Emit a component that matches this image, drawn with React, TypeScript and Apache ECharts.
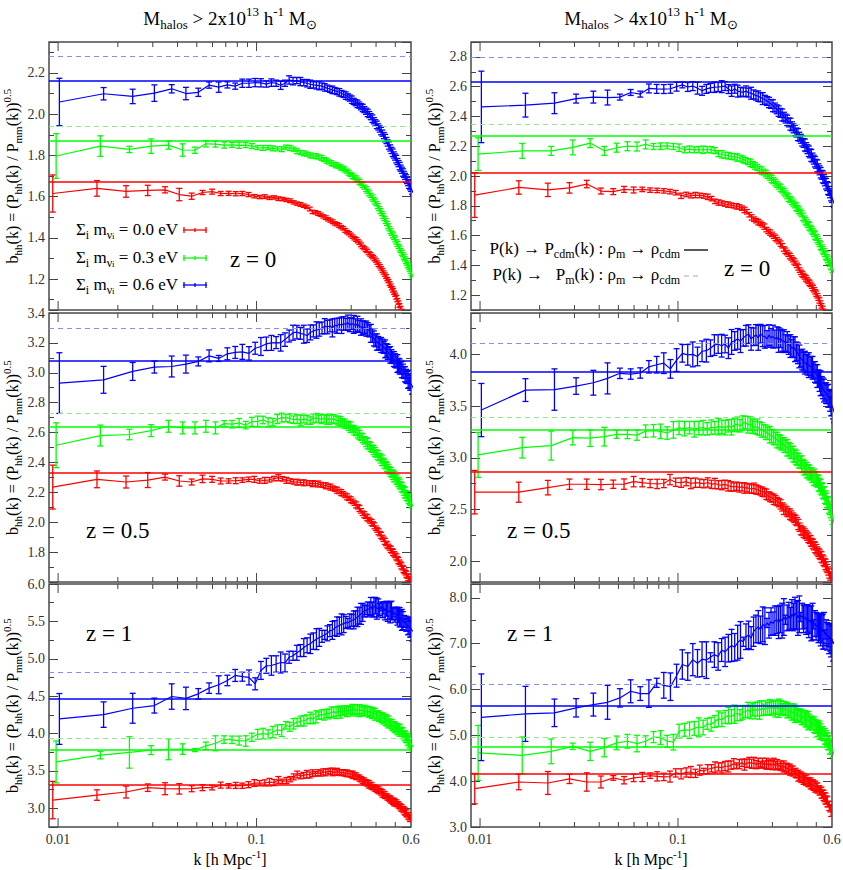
import React, { useEffect, useRef } from 'react';
import * as echarts from 'echarts';

// k values of the measured points [h/Mpc]
const K = [
  0.0094, 0.0157, 0.0220, 0.0283, 0.0346, 0.0408, 0.0471, 0.0534, 0.0597, 0.0660,
  0.0723, 0.0785, 0.0848, 0.0911, 0.0974, 0.1037, 0.1100, 0.1162, 0.1225, 0.1288,
  0.1351, 0.1414, 0.1477, 0.1539, 0.1602, 0.1665, 0.1728, 0.1791, 0.1854, 0.1916,
  0.1979, 0.2042, 0.2105, 0.2168, 0.2231, 0.2293, 0.2356, 0.2419, 0.2482, 0.2545,
  0.2608, 0.2670, 0.2733, 0.2796, 0.2859, 0.2922, 0.2985, 0.3047, 0.3110, 0.3173,
  0.3236, 0.3299, 0.3362, 0.3424, 0.3487, 0.3550, 0.3613, 0.3676, 0.3738, 0.3801,
  0.3864, 0.3927, 0.3990, 0.4053, 0.4115, 0.4178, 0.4241, 0.4304, 0.4367, 0.4430,
  0.4492, 0.4555, 0.4618, 0.4681, 0.4744, 0.4807, 0.4869, 0.4932, 0.4995, 0.5058,
  0.5121, 0.5184, 0.5246, 0.5309, 0.5372, 0.5435, 0.5498, 0.5561, 0.5623, 0.5686,
  0.5749, 0.5812, 0.5875, 0.5938,
];

const MAJOR_K = [0.01, 0.1];
const MINOR_K = [0.02, 0.03, 0.04, 0.05, 0.06, 0.07, 0.08, 0.09, 0.2, 0.3, 0.4, 0.5];
const X_TICK_LABELS = [0.01, 0.1, 0.6];
const NU_MASSES = ['0.0', '0.3', '0.6'];

// ---------- M > 2e13, z = 0 ----------
const M2_Z0_00 = [
  1.615,1.640,1.625,1.630,1.633,1.610,1.602,1.620,1.624,1.615,
  1.616,1.614,1.615,1.610,1.602,1.598,1.600,1.594,1.596,1.590,
  1.588,1.584,1.580,1.572,1.566,1.562,1.556,1.550,1.540,1.526,
  1.524,1.518,1.512,1.504,1.498,1.490,1.484,1.478,1.470,1.466,
  1.460,1.452,1.446,1.436,1.428,1.422,1.414,1.406,1.398,1.392,
  1.384,1.376,1.366,1.356,1.350,1.342,1.336,1.326,1.320,1.312,
  1.306,1.298,1.290,1.280,1.270,1.262,1.252,1.242,1.232,1.222,
  1.212,1.200,1.190,1.178,1.168,1.156,1.146,1.134,1.124,1.112,
  1.098,1.086,1.072,1.060,1.046,1.032,1.018,1.004,0.990,0.976,
  0.962,0.948,0.934,0.920,
];
const M2_Z0_03 = [
  1.797,1.845,1.829,1.845,1.850,1.826,1.825,1.856,1.855,1.850,
  1.851,1.849,1.850,1.845,1.838,1.836,1.838,1.834,1.832,1.830,
  1.840,1.836,1.830,1.820,1.814,1.810,1.806,1.800,1.798,1.796,
  1.792,1.788,1.780,1.774,1.768,1.762,1.757,1.752,1.748,1.742,
  1.738,1.732,1.724,1.716,1.708,1.700,1.694,1.688,1.680,1.672,
  1.664,1.656,1.646,1.636,1.626,1.616,1.606,1.596,1.586,1.576,
  1.566,1.554,1.542,1.530,1.518,1.506,1.494,1.482,1.470,1.456,
  1.444,1.432,1.422,1.412,1.402,1.392,1.380,1.370,1.358,1.348,
  1.338,1.328,1.318,1.308,1.298,1.288,1.278,1.268,1.258,1.250,
  1.238,1.228,1.216,1.205,
];
const M2_Z0_06 = [
  2.059,2.099,2.086,2.102,2.123,2.100,2.106,2.141,2.131,2.142,
  2.136,2.150,2.150,2.153,2.152,2.146,2.153,2.150,2.140,2.150,
  2.166,2.160,2.163,2.158,2.153,2.150,2.145,2.142,2.140,2.138,
  2.136,2.130,2.126,2.121,2.118,2.114,2.110,2.106,2.100,2.096,
  2.090,2.084,2.078,2.070,2.062,2.056,2.050,2.044,2.036,2.030,
  2.022,2.014,2.006,1.998,1.988,1.978,1.968,1.958,1.948,1.938,
  1.928,1.918,1.908,1.896,1.884,1.872,1.860,1.848,1.836,1.824,
  1.813,1.802,1.792,1.782,1.770,1.760,1.748,1.738,1.728,1.717,
  1.708,1.698,1.688,1.678,1.668,1.658,1.648,1.640,1.630,1.620,
  1.612,1.604,1.596,1.588,
];
const M2_Z0_00_ERR = [
  .090,.038,.028,.025,.015,.030,.015,.010,.012,.010,
  .010,.010,.010,.010,.008,.008,.009,.008,.008,.009,
  .008,.008,.009,.008,.008,.009,.008,.008,.009,.008,
  .008,.009,.008,.008,.009,.008,.008,.009,.008,.008,
  .009,.008,.008,.009,.008,.008,.009,.008,.008,.009,
  .008,.008,.009,.008,.008,.009,.008,.008,.009,.008,
  .008,.009,.008,.008,.009,.008,.008,.009,.008,.008,
  .009,.008,.008,.009,.008,.008,.009,.008,.008,.009,
  .008,.008,.009,.008,.008,.009,.008,.008,.009,.008,
  .008,.009,.008,.008,
];
const M2_Z0_03_ERR = [
  .108,.050,.015,.035,.020,.030,.015,.015,.015,.015,
  .012,.015,.012,.012,.010,.012,.010,.012,.010,.012,
  .010,.012,.010,.012,.010,.012,.010,.012,.010,.012,
  .010,.012,.010,.012,.010,.012,.010,.012,.010,.012,
  .010,.012,.010,.012,.010,.012,.010,.012,.010,.012,
  .010,.012,.010,.012,.010,.012,.010,.012,.010,.012,
  .010,.012,.010,.012,.010,.012,.010,.012,.010,.012,
  .010,.012,.010,.012,.010,.012,.010,.012,.010,.012,
  .010,.012,.010,.012,.010,.012,.010,.012,.010,.012,
  .010,.012,.010,.012,
];
const M2_Z0_06_ERR = [
  .115,.030,.035,.040,.020,.030,.020,.015,.025,.015,
  .015,.020,.020,.020,.020,.015,.018,.015,.020,.015,
  .020,.018,.015,.020,.015,.018,.020,.015,.018,.020,
  .015,.018,.015,.015,.018,.015,.015,.018,.015,.015,
  .018,.015,.015,.018,.015,.015,.018,.015,.015,.018,
  .015,.015,.018,.015,.015,.018,.015,.015,.018,.015,
  .015,.018,.015,.015,.018,.015,.015,.018,.015,.015,
  .018,.015,.015,.018,.015,.015,.018,.015,.015,.018,
  .015,.015,.018,.015,.015,.018,.015,.015,.018,.015,
  .015,.018,.015,.015,
];
const M2_Z0_SOLID = [1.671, 1.872, 2.161];
const M2_Z0_DASHED = [null, 1.935, 2.279];
const M2_Z0_YTICKS = [1.2, 1.4, 1.6, 1.8, 2.0, 2.2];

// ---------- M > 4e13, z = 0 ----------
const M4_Z0_00 = [
  1.872,1.923,1.907,1.920,1.946,1.899,1.895,1.910,1.906,1.910,
  1.905,1.903,1.900,1.895,1.888,1.867,1.876,1.868,1.872,1.870,
  1.866,1.860,1.848,1.830,1.822,1.818,1.812,1.808,1.804,1.800,
  1.796,1.792,1.784,1.772,1.760,1.740,1.722,1.710,1.700,1.690,
  1.682,1.672,1.660,1.640,1.628,1.620,1.608,1.596,1.584,1.572,
  1.560,1.546,1.532,1.510,1.498,1.486,1.474,1.462,1.450,1.438,
  1.426,1.414,1.400,1.386,1.368,1.353,1.342,1.332,1.322,1.312,
  1.302,1.292,1.282,1.272,1.260,1.248,1.236,1.222,1.210,1.196,
  1.180,1.164,1.146,1.128,1.108,1.090,1.070,1.050,1.030,1.010,
  0.990,0.970,0.950,0.930,
];
const M4_Z0_03 = [
  2.147,2.169,2.169,2.192,2.221,2.169,2.190,2.200,2.198,2.212,
  2.198,2.200,2.202,2.198,2.190,2.176,2.180,2.176,2.178,2.176,
  2.178,2.176,2.170,2.150,2.146,2.140,2.136,2.132,2.128,2.124,
  2.120,2.112,2.104,2.096,2.088,2.078,2.068,2.058,2.046,2.036,
  2.026,2.016,2.004,1.992,1.980,1.968,1.956,1.944,1.932,1.920,
  1.906,1.894,1.880,1.867,1.854,1.842,1.830,1.818,1.806,1.794,
  1.782,1.770,1.758,1.746,1.726,1.711,1.698,1.686,1.674,1.662,
  1.650,1.638,1.626,1.614,1.600,1.588,1.574,1.560,1.546,1.532,
  1.518,1.504,1.492,1.478,1.466,1.452,1.440,1.426,1.414,1.400,
  1.388,1.374,1.360,1.345,
];
const M4_Z0_06 = [
  2.464,2.476,2.489,2.520,2.530,2.527,2.530,2.561,2.550,2.588,
  2.585,2.584,2.586,2.600,2.612,2.598,2.604,2.590,2.572,2.585,
  2.592,2.596,2.598,2.600,2.604,2.584,2.570,2.586,2.570,2.566,
  2.562,2.570,2.560,2.556,2.548,2.540,2.536,2.528,2.520,2.512,
  2.504,2.494,2.484,2.472,2.460,2.448,2.436,2.424,2.410,2.398,
  2.386,2.374,2.360,2.348,2.334,2.320,2.306,2.292,2.278,2.264,
  2.250,2.236,2.222,2.208,2.194,2.180,2.166,2.152,2.138,2.124,
  2.110,2.096,2.082,2.068,2.052,2.038,2.022,2.008,1.994,1.979,
  1.964,1.948,1.932,1.916,1.900,1.884,1.868,1.852,1.836,1.820,
  1.804,1.788,1.772,1.756,
];
const M4_Z0_00_ERR = [
  .150,.045,.045,.035,.025,.020,.020,.020,.020,.015,
  .015,.015,.015,.015,.015,.018,.015,.015,.018,.015,
  .015,.018,.015,.015,.018,.015,.015,.018,.015,.015,
  .018,.015,.015,.018,.015,.015,.018,.015,.015,.018,
  .015,.015,.018,.015,.015,.018,.015,.015,.018,.015,
  .015,.018,.015,.015,.018,.015,.015,.018,.015,.015,
  .018,.015,.015,.018,.015,.015,.018,.015,.015,.018,
  .015,.015,.018,.015,.015,.018,.015,.015,.018,.015,
  .015,.018,.015,.015,.018,.015,.015,.018,.015,.015,
  .018,.015,.015,.018,
];
const M4_Z0_03_ERR = [
  .110,.050,.030,.050,.030,.030,.030,.030,.030,.030,
  .020,.022,.020,.020,.025,.020,.022,.020,.020,.025,
  .020,.022,.020,.020,.025,.020,.022,.020,.020,.025,
  .020,.022,.020,.020,.025,.020,.022,.020,.020,.025,
  .020,.022,.020,.020,.025,.020,.022,.020,.020,.025,
  .020,.022,.020,.020,.025,.020,.022,.020,.020,.025,
  .020,.022,.020,.020,.025,.020,.022,.020,.020,.025,
  .020,.022,.020,.020,.025,.020,.022,.020,.020,.025,
  .020,.022,.020,.020,.025,.020,.022,.020,.020,.025,
  .020,.022,.020,.025,
];
const M4_Z0_06_ERR = [
  .240,.080,.070,.030,.040,.050,.020,.020,.020,.030,
  .030,.030,.030,.030,.020,.030,.030,.040,.030,.030,
  .030,.035,.030,.040,.030,.030,.035,.030,.040,.030,
  .030,.035,.030,.040,.030,.030,.035,.030,.040,.030,
  .030,.035,.030,.040,.030,.030,.035,.030,.040,.030,
  .030,.035,.030,.040,.030,.030,.035,.030,.040,.030,
  .030,.035,.030,.040,.030,.030,.035,.030,.040,.030,
  .030,.035,.030,.040,.030,.030,.035,.030,.040,.030,
  .030,.035,.030,.040,.030,.030,.035,.030,.040,.030,
  .030,.035,.030,.040,
];
const M4_Z0_SOLID = [2.019, 2.275, 2.632];
const M4_Z0_DASHED = [null, 2.346, 2.800];
const M4_Z0_YTICKS = [1.2, 1.4, 1.6, 1.8, 2.0, 2.2, 2.4, 2.6, 2.8];

// ---------- M > 2e13, z = 0.5 ----------
const M2_Z05_00 = [
  2.235,2.287,2.269,2.282,2.302,2.276,2.269,2.290,2.287,2.276,
  2.276,2.278,2.282,2.287,2.287,2.276,2.280,2.284,2.292,2.298,
  2.290,2.280,2.276,2.270,2.268,2.266,2.264,2.262,2.262,2.258,
  2.258,2.256,2.252,2.248,2.244,2.240,2.235,2.228,2.222,2.214,
  2.206,2.198,2.190,2.180,2.170,2.160,2.150,2.140,2.128,2.116,
  2.104,2.092,2.076,2.060,2.050,2.040,2.030,2.018,2.008,1.998,
  1.988,1.976,1.960,1.948,1.936,1.924,1.912,1.898,1.886,1.872,
  1.858,1.848,1.838,1.828,1.818,1.808,1.798,1.788,1.778,1.768,
  1.756,1.744,1.732,1.720,1.708,1.696,1.684,1.672,1.662,1.652,
  1.640,1.630,1.620,1.608,
];
const M2_Z05_03 = [
  2.515,2.580,2.587,2.613,2.642,2.631,2.631,2.642,2.631,2.660,
  2.656,2.664,2.650,2.672,2.675,2.684,2.669,2.670,2.690,2.700,
  2.698,2.696,2.686,2.690,2.682,2.690,2.686,2.680,2.694,2.698,
  2.692,2.690,2.694,2.686,2.690,2.692,2.690,2.684,2.680,2.676,
  2.668,2.660,2.652,2.644,2.636,2.624,2.614,2.604,2.594,2.584,
  2.572,2.562,2.548,2.536,2.526,2.514,2.504,2.492,2.482,2.470,
  2.460,2.448,2.436,2.426,2.414,2.404,2.392,2.382,2.370,2.358,
  2.347,2.336,2.326,2.316,2.306,2.296,2.286,2.276,2.268,2.258,
  2.246,2.234,2.222,2.210,2.198,2.188,2.176,2.166,2.156,2.147,
  2.136,2.126,2.114,2.102,
];
const M2_Z05_06 = [
  2.931,2.953,3.009,3.038,3.042,3.058,3.076,3.113,3.096,3.127,
  3.136,3.140,3.130,3.164,3.176,3.194,3.200,3.202,3.200,3.222,
  3.246,3.268,3.272,3.264,3.258,3.248,3.270,3.280,3.286,3.290,
  3.300,3.312,3.306,3.314,3.300,3.318,3.314,3.326,3.318,3.330,
  3.324,3.336,3.320,3.330,3.324,3.316,3.328,3.310,3.306,3.302,
  3.304,3.296,3.290,3.280,3.264,3.248,3.230,3.214,3.206,3.198,
  3.192,3.186,3.180,3.170,3.160,3.150,3.140,3.130,3.120,3.110,
  3.102,3.092,3.082,3.072,3.062,3.052,3.042,3.032,3.022,3.013,
  3.002,2.990,2.978,2.968,2.956,2.946,2.934,2.924,2.912,2.902,
  2.884,2.864,2.846,2.826,
];
const M2_Z05_00_ERR = [
  .147,.056,.040,.050,.020,.035,.020,.025,.020,.020,
  .015,.020,.015,.015,.020,.015,.020,.015,.015,.020,
  .015,.020,.015,.015,.020,.015,.020,.015,.015,.020,
  .015,.020,.015,.015,.020,.015,.020,.015,.015,.020,
  .015,.020,.015,.015,.020,.015,.020,.015,.015,.020,
  .015,.020,.015,.015,.020,.015,.020,.015,.015,.020,
  .015,.020,.015,.015,.020,.015,.020,.015,.015,.020,
  .015,.020,.015,.015,.020,.015,.020,.015,.015,.020,
  .015,.020,.015,.015,.020,.015,.020,.015,.015,.020,
  .015,.020,.015,.020,
];
const M2_Z05_03_ERR = [
  .150,.070,.035,.040,.040,.040,.040,.040,.040,.020,
  .025,.030,.025,.030,.035,.025,.030,.025,.030,.030,
  .025,.030,.025,.030,.035,.025,.030,.025,.030,.030,
  .025,.030,.025,.030,.035,.025,.030,.025,.030,.030,
  .025,.030,.025,.030,.035,.025,.030,.025,.030,.030,
  .025,.030,.025,.030,.035,.025,.030,.025,.030,.030,
  .025,.030,.025,.030,.035,.025,.030,.025,.030,.030,
  .025,.030,.025,.030,.035,.025,.030,.025,.030,.030,
  .025,.030,.025,.030,.035,.025,.030,.025,.030,.030,
  .025,.030,.025,.030,
];
const M2_Z05_06_ERR = [
  .203,.090,.060,.040,.070,.060,.030,.040,.020,.040,
  .040,.050,.045,.040,.060,.045,.050,.040,.055,.045,
  .040,.050,.045,.040,.060,.045,.050,.040,.055,.045,
  .040,.050,.045,.040,.060,.045,.050,.040,.055,.045,
  .040,.050,.045,.040,.060,.045,.050,.040,.055,.045,
  .040,.050,.045,.040,.060,.045,.050,.040,.055,.045,
  .040,.050,.045,.040,.060,.045,.050,.040,.055,.045,
  .040,.050,.045,.040,.060,.045,.050,.040,.055,.045,
  .040,.050,.045,.040,.060,.045,.050,.040,.055,.045,
  .040,.050,.045,.040,
];
const M2_Z05_SOLID = [2.327, 2.638, 3.078];
const M2_Z05_DASHED = [null, 2.735, 3.298];
const M2_Z05_YTICKS = [1.8, 2.0, 2.2, 2.4, 2.6, 2.8, 3.0, 3.2, 3.4];

// ---------- M > 4e13, z = 0.5 ----------
const M4_Z05_00 = [
  2.668,2.668,2.712,2.745,2.745,2.742,2.745,2.746,2.770,2.760,
  2.752,2.748,2.752,2.790,2.764,2.760,2.770,2.752,2.760,2.755,
  2.750,2.762,2.744,2.752,2.740,2.736,2.744,2.730,2.724,2.718,
  2.726,2.714,2.720,2.708,2.712,2.704,2.700,2.706,2.694,2.690,
  2.680,2.672,2.664,2.648,2.632,2.622,2.612,2.600,2.590,2.578,
  2.566,2.550,2.526,2.502,2.494,2.482,2.470,2.456,2.442,2.428,
  2.414,2.398,2.384,2.356,2.330,2.302,2.292,2.282,2.270,2.258,
  2.244,2.228,2.212,2.198,2.182,2.166,2.150,2.134,2.118,2.100,
  2.086,2.072,2.058,2.042,2.024,2.006,1.988,1.970,1.950,1.930,
  1.906,1.882,1.858,1.834,
];
const M4_Z05_03 = [
  3.028,3.098,3.118,3.195,3.190,3.205,3.228,3.226,3.220,3.258,
  3.262,3.256,3.240,3.270,3.290,3.282,3.292,3.276,3.288,3.292,
  3.280,3.296,3.290,3.302,3.300,3.292,3.310,3.296,3.318,3.324,
  3.310,3.336,3.342,3.320,3.330,3.306,3.294,3.300,3.284,3.270,
  3.260,3.248,3.236,3.224,3.211,3.198,3.186,3.172,3.160,3.148,
  3.136,3.124,3.110,3.098,3.084,3.068,3.052,3.036,3.020,3.004,
  2.988,2.972,2.956,2.940,2.922,2.905,2.894,2.882,2.870,2.858,
  2.846,2.834,2.822,2.812,2.804,2.796,2.776,2.756,2.738,2.720,
  2.700,2.680,2.660,2.640,2.616,2.590,2.566,2.540,2.516,2.490,
  2.458,2.426,2.392,2.360,
];
const M4_Z05_06 = [
  3.462,3.655,3.660,3.694,3.726,3.768,3.817,3.810,3.820,3.880,
  3.900,3.915,3.860,3.945,4.010,3.996,4.000,3.980,4.030,4.036,
  4.060,4.090,4.100,4.084,4.100,4.060,4.120,4.130,4.150,4.128,
  4.160,4.180,4.196,4.150,4.170,4.188,4.160,4.200,4.176,4.170,
  4.150,4.186,4.160,4.172,4.150,4.166,4.140,4.156,4.130,4.128,
  4.110,4.120,4.090,4.080,4.060,4.070,4.050,4.030,4.010,3.980,
  3.960,3.950,3.930,3.920,3.910,3.900,3.896,3.886,3.880,3.870,
  3.850,3.830,3.812,3.790,3.766,3.742,3.720,3.696,3.672,3.650,
  3.638,3.626,3.614,3.600,3.576,3.550,3.526,3.500,3.476,3.450,
  3.420,3.392,3.362,3.330,
];
const M4_Z05_00_ERR = [
  .210,.097,.070,.050,.050,.050,.040,.050,.050,.040,
  .040,.045,.040,.050,.040,.045,.040,.050,.045,.040,
  .040,.045,.040,.050,.040,.045,.040,.050,.045,.040,
  .040,.045,.040,.050,.040,.045,.040,.050,.045,.040,
  .040,.045,.040,.050,.040,.045,.040,.050,.045,.040,
  .040,.045,.040,.050,.040,.045,.040,.050,.045,.040,
  .040,.045,.040,.050,.040,.045,.040,.050,.045,.040,
  .040,.045,.040,.050,.040,.045,.040,.050,.045,.040,
  .040,.045,.040,.050,.040,.045,.040,.050,.045,.040,
  .040,.045,.040,.050,
];
const M4_Z05_03_ERR = [
  .217,.100,.140,.070,.080,.090,.040,.040,.050,.060,
  .060,.070,.060,.080,.065,.070,.060,.075,.065,.070,
  .060,.070,.060,.080,.065,.070,.060,.075,.065,.070,
  .060,.070,.060,.080,.065,.070,.060,.075,.065,.070,
  .060,.070,.060,.080,.065,.070,.060,.075,.065,.070,
  .060,.070,.060,.080,.065,.070,.060,.075,.065,.070,
  .060,.070,.060,.080,.065,.070,.060,.075,.065,.070,
  .060,.070,.060,.080,.065,.070,.060,.075,.065,.070,
  .060,.070,.060,.080,.065,.070,.060,.075,.065,.070,
  .060,.070,.060,.080,
];
const M4_Z05_06_ERR = [
  .257,.110,.200,.080,.120,.150,.050,.050,.050,.060,
  .080,.100,.090,.110,.085,.100,.120,.090,.100,.110,
  .080,.100,.090,.110,.085,.100,.120,.090,.100,.110,
  .080,.100,.090,.110,.085,.100,.120,.090,.100,.110,
  .080,.100,.090,.110,.085,.100,.120,.090,.100,.110,
  .080,.100,.090,.110,.085,.100,.120,.090,.100,.110,
  .080,.100,.090,.110,.085,.100,.120,.090,.100,.110,
  .080,.100,.090,.110,.085,.100,.120,.090,.100,.110,
  .080,.100,.090,.110,.085,.100,.120,.090,.100,.110,
  .080,.100,.090,.110,
];
const M4_Z05_SOLID = [2.867, 3.269, 3.832];
const M4_Z05_DASHED = [null, 3.392, 4.112];
const M4_Z05_YTICKS = [2.0, 2.5, 3.0, 3.5, 4.0];

// ---------- M > 2e13, z = 1 ----------
const M2_Z1_00 = [
  3.110,3.177,3.218,3.276,3.262,3.260,3.262,3.276,3.276,3.310,
  3.300,3.306,3.302,3.316,3.338,3.336,3.340,3.350,3.344,3.380,
  3.360,3.372,3.390,3.420,3.452,3.430,3.440,3.456,3.446,3.470,
  3.460,3.476,3.466,3.488,3.480,3.494,3.496,3.486,3.480,3.490,
  3.484,3.476,3.482,3.470,3.468,3.460,3.456,3.448,3.440,3.428,
  3.418,3.404,3.388,3.372,3.360,3.348,3.336,3.322,3.310,3.296,
  3.282,3.272,3.262,3.252,3.242,3.230,3.216,3.200,3.188,3.176,
  3.164,3.152,3.140,3.128,3.116,3.104,3.092,3.084,3.076,3.068,
  3.060,3.046,3.032,3.018,3.004,2.992,2.980,2.964,2.948,2.932,
  2.916,2.898,2.880,2.862,
];
const M2_Z1_03 = [
  3.620,3.711,3.747,3.778,3.790,3.792,3.778,3.836,3.870,3.920,
  3.916,3.906,3.900,3.950,3.990,4.000,3.990,4.020,4.050,4.040,
  4.110,4.090,4.130,4.150,4.168,4.170,4.190,4.210,4.196,4.224,
  4.240,4.256,4.250,4.270,4.262,4.286,4.290,4.276,4.300,4.286,
  4.294,4.310,4.296,4.316,4.300,4.320,4.326,4.310,4.320,4.306,
  4.316,4.300,4.308,4.296,4.300,4.286,4.290,4.276,4.266,4.258,
  4.250,4.240,4.232,4.222,4.212,4.200,4.190,4.180,4.168,4.156,
  4.144,4.130,4.116,4.102,4.092,4.080,4.070,4.060,4.050,4.044,
  4.036,4.020,4.004,3.984,3.968,3.952,3.936,3.920,3.904,3.888,
  3.872,3.854,3.834,3.812,
];
const M2_Z1_06 = [
  4.195,4.253,4.338,4.374,4.495,4.470,4.531,4.607,4.652,4.710,
  4.777,4.760,4.750,4.665,4.844,4.906,4.910,4.930,4.950,4.944,
  5.020,5.040,5.080,5.110,5.150,5.180,5.200,5.236,5.262,5.286,
  5.300,5.320,5.340,5.376,5.380,5.410,5.430,5.446,5.460,5.470,
  5.486,5.480,5.500,5.512,5.520,5.540,5.560,5.576,5.600,5.620,
  5.640,5.650,5.660,5.670,5.700,5.660,5.690,5.710,5.670,5.680,
  5.660,5.700,5.650,5.680,5.640,5.670,5.630,5.640,5.620,5.650,
  5.600,5.620,5.590,5.600,5.570,5.580,5.556,5.540,5.520,5.510,
  5.500,5.480,5.470,5.450,5.440,5.430,5.420,5.400,5.380,5.370,
  5.340,5.320,5.300,5.280,
];
const M2_Z1_00_ERR = [
  .250,.070,.080,.050,.080,.070,.040,.040,.030,.040,
  .030,.040,.035,.040,.045,.035,.040,.050,.040,.045,
  .030,.040,.035,.040,.045,.035,.040,.050,.040,.045,
  .030,.040,.035,.040,.045,.035,.040,.050,.040,.045,
  .030,.040,.035,.040,.045,.035,.040,.050,.040,.045,
  .030,.040,.035,.040,.045,.035,.040,.050,.040,.045,
  .030,.040,.035,.040,.045,.035,.040,.050,.040,.045,
  .030,.040,.035,.040,.045,.035,.040,.050,.040,.045,
  .030,.040,.035,.040,.045,.035,.040,.050,.040,.045,
  .030,.040,.035,.040,
];
const M2_Z1_03_ERR = [
  .280,.050,.210,.060,.140,.070,.020,.050,.100,.050,
  .050,.060,.070,.055,.065,.070,.060,.075,.065,.080,
  .050,.060,.070,.055,.065,.070,.060,.075,.065,.080,
  .050,.060,.070,.055,.065,.070,.060,.075,.065,.080,
  .050,.060,.070,.055,.065,.070,.060,.075,.065,.080,
  .050,.060,.070,.055,.065,.070,.060,.075,.065,.080,
  .050,.060,.070,.055,.065,.070,.060,.075,.065,.080,
  .050,.060,.070,.055,.065,.070,.060,.075,.065,.080,
  .050,.060,.070,.055,.065,.070,.060,.075,.065,.080,
  .050,.060,.070,.055,
];
const M2_Z1_06_ERR = [
  .340,.170,.200,.100,.170,.150,.070,.070,.120,.070,
  .080,.060,.100,.080,.120,.100,.130,.110,.140,.120,
  .080,.060,.100,.080,.120,.100,.130,.110,.140,.120,
  .080,.060,.100,.080,.120,.100,.130,.110,.140,.120,
  .080,.060,.100,.080,.120,.100,.130,.110,.140,.120,
  .080,.060,.100,.080,.120,.100,.130,.110,.140,.120,
  .080,.060,.100,.080,.120,.100,.130,.110,.140,.120,
  .080,.060,.100,.080,.120,.100,.130,.110,.140,.120,
  .080,.060,.100,.080,.120,.100,.130,.110,.140,.120,
  .080,.060,.100,.080,
];
const M2_Z1_SOLID = [3.308, 3.782, 4.473];
const M2_Z1_DASHED = [null, 3.935, 4.820];
const M2_Z1_YTICKS = [3.0, 3.5, 4.0, 4.5, 5.0, 5.5, 6.0];

// ---------- M > 4e13, z = 1 ----------
const M4_Z1_00 = [
  3.836,3.982,3.960,4.048,3.982,3.982,4.070,4.020,4.070,4.090,
  4.120,4.104,4.092,4.100,4.180,4.160,4.190,4.200,4.170,4.240,
  4.220,4.260,4.280,4.300,4.310,4.290,4.330,4.320,4.350,4.380,
  4.340,4.370,4.400,4.360,4.390,4.410,4.380,4.400,4.360,4.390,
  4.370,4.400,4.360,4.380,4.360,4.370,4.350,4.380,4.340,4.360,
  4.330,4.340,4.310,4.320,4.300,4.280,4.270,4.250,4.240,4.220,
  4.200,4.180,4.150,4.120,4.110,4.090,4.070,4.050,4.030,4.020,
  4.000,3.980,3.960,3.950,3.930,3.920,3.900,3.880,3.870,3.850,
  3.830,3.800,3.780,3.750,3.720,3.690,3.650,3.620,3.590,3.550,
  3.500,3.460,3.410,3.350,
];
const M4_Z1_03 = [
  4.616,4.563,4.650,4.760,4.650,4.730,4.834,4.870,4.820,4.870,
  4.960,4.950,4.870,4.850,5.090,5.120,5.110,5.150,5.180,5.170,
  5.250,5.240,5.300,5.360,5.340,5.400,5.430,5.410,5.460,5.480,
  5.440,5.500,5.520,5.550,5.510,5.560,5.540,5.570,5.550,5.590,
  5.560,5.600,5.580,5.610,5.590,5.620,5.580,5.610,5.590,5.600,
  5.570,5.590,5.560,5.550,5.540,5.520,5.510,5.490,5.480,5.460,
  5.440,5.430,5.410,5.400,5.390,5.370,5.360,5.340,5.320,5.300,
  5.290,5.270,5.250,5.230,5.200,5.180,5.150,5.130,5.110,5.090,
  5.060,5.040,5.010,4.980,4.950,4.910,4.870,4.830,4.790,4.750,
  4.710,4.670,4.610,4.550,
];
const M4_Z1_06 = [
  5.393,5.467,5.490,5.600,5.670,5.720,5.816,5.960,5.910,5.910,
  6.145,6.090,6.060,6.300,6.545,6.500,6.650,6.570,6.660,6.640,
  6.700,6.760,6.720,6.860,6.820,6.900,6.960,6.920,7.020,7.080,
  7.040,7.150,7.190,7.120,7.260,7.320,7.370,7.300,7.420,7.380,
  7.450,7.400,7.480,7.440,7.500,7.520,7.460,7.540,7.500,7.580,
  7.520,7.560,7.600,7.540,7.640,7.580,7.660,7.620,7.560,7.640,
  7.580,7.600,7.540,7.580,7.520,7.550,7.480,7.520,7.440,7.480,
  7.420,7.440,7.380,7.400,7.340,7.360,7.300,7.320,7.260,7.280,
  7.200,7.240,7.160,7.180,7.100,7.140,7.060,7.100,7.000,7.040,
  6.960,6.980,6.880,6.850,
];
const M4_Z1_00_ERR = [
  .330,.170,.250,.100,.200,.130,.050,.080,.080,.100,
  .060,.100,.080,.120,.090,.110,.100,.120,.090,.110,
  .060,.100,.080,.120,.090,.110,.100,.120,.090,.110,
  .060,.100,.080,.120,.090,.110,.100,.120,.090,.110,
  .060,.100,.080,.120,.090,.110,.100,.120,.090,.110,
  .060,.100,.080,.120,.090,.110,.100,.120,.090,.110,
  .060,.100,.080,.120,.090,.110,.100,.120,.090,.110,
  .060,.100,.080,.120,.090,.110,.100,.120,.090,.110,
  .060,.100,.080,.120,.090,.110,.100,.120,.090,.110,
  .060,.100,.080,.120,
];
const M4_Z1_03_ERR = [
  .600,.400,.270,.070,.200,.200,.150,.150,.180,.120,
  .120,.150,.130,.170,.150,.140,.180,.150,.200,.160,
  .120,.150,.130,.170,.150,.140,.180,.150,.200,.160,
  .120,.150,.130,.170,.150,.140,.180,.150,.200,.160,
  .120,.150,.130,.170,.150,.140,.180,.150,.200,.160,
  .120,.150,.130,.170,.150,.140,.180,.150,.200,.160,
  .120,.150,.130,.170,.150,.140,.180,.150,.200,.160,
  .120,.150,.130,.170,.150,.140,.180,.150,.200,.160,
  .120,.150,.130,.170,.150,.140,.180,.150,.200,.160,
  .120,.150,.130,.170,
];
const M4_Z1_06_ERR = [
  .945,.600,.300,.200,.250,.370,.200,.250,.150,.300,
  .100,.280,.300,.250,.320,.300,.350,.300,.380,.400,
  .100,.280,.300,.250,.320,.300,.350,.300,.380,.400,
  .100,.280,.300,.250,.320,.300,.350,.300,.380,.400,
  .100,.280,.300,.250,.320,.300,.350,.300,.380,.400,
  .100,.280,.300,.250,.320,.300,.350,.300,.380,.400,
  .100,.280,.300,.250,.320,.300,.350,.300,.380,.400,
  .100,.280,.300,.250,.320,.300,.350,.300,.380,.400,
  .100,.280,.300,.250,.320,.300,.350,.300,.380,.400,
  .100,.280,.300,.250,
];
const M4_Z1_SOLID = [4.157, 4.760, 5.650];
const M4_Z1_DASHED = [null, 4.965, 6.107];
const M4_Z1_YTICKS = [3.0, 4.0, 5.0, 6.0, 7.0, 8.0];

// ---------- layout & style ----------
const FONT = 'Liberation Serif';
const COLORS = ['#ff0000', '#00ff00', '#0000ff'];
const DASH_COLORS = ['#ff9090', '#8fe88f', '#8a8aff'];
const X_DODGE = [1, 1.04, 1.08];
const GRID_LEFT = [49, 471];
const GRID_WIDTH = [362, 361];
const GRID_TOP = [42, 313, 584];
const GRID_HEIGHT = [268, 269, 243];

const PANELS = [
  { col: 0, row: 0, vals: [M2_Z0_00, M2_Z0_03, M2_Z0_06], errs: [M2_Z0_00_ERR, M2_Z0_03_ERR, M2_Z0_06_ERR], solid: M2_Z0_SOLID, dashed: M2_Z0_DASHED, ticks: M2_Z0_YTICKS, yMin: 1.05, yMax: 2.35, step: 0.2 },
  { col: 1, row: 0, vals: [M4_Z0_00, M4_Z0_03, M4_Z0_06], errs: [M4_Z0_00_ERR, M4_Z0_03_ERR, M4_Z0_06_ERR], solid: M4_Z0_SOLID, dashed: M4_Z0_DASHED, ticks: M4_Z0_YTICKS, yMin: 1.1, yMax: 2.9, step: 0.2 },
  { col: 0, row: 1, vals: [M2_Z05_00, M2_Z05_03, M2_Z05_06], errs: [M2_Z05_00_ERR, M2_Z05_03_ERR, M2_Z05_06_ERR], solid: M2_Z05_SOLID, dashed: M2_Z05_DASHED, ticks: M2_Z05_YTICKS, yMin: 1.6, yMax: 3.4, step: 0.2 },
  { col: 1, row: 1, vals: [M4_Z05_00, M4_Z05_03, M4_Z05_06], errs: [M4_Z05_00_ERR, M4_Z05_03_ERR, M4_Z05_06_ERR], solid: M4_Z05_SOLID, dashed: M4_Z05_DASHED, ticks: M4_Z05_YTICKS, yMin: 1.8, yMax: 4.4, step: 0.5 },
  { col: 0, row: 2, vals: [M2_Z1_00, M2_Z1_03, M2_Z1_06], errs: [M2_Z1_00_ERR, M2_Z1_03_ERR, M2_Z1_06_ERR], solid: M2_Z1_SOLID, dashed: M2_Z1_DASHED, ticks: M2_Z1_YTICKS, yMin: 2.75, yMax: 6.0, step: 0.5 },
  { col: 1, row: 2, vals: [M4_Z1_00, M4_Z1_03, M4_Z1_06], errs: [M4_Z1_00_ERR, M4_Z1_03_ERR, M4_Z1_06_ERR], solid: M4_Z1_SOLID, dashed: M4_Z1_DASHED, ticks: M4_Z1_YTICKS, yMin: 3.0, yMax: 8.3, step: 1.0 },
];

function richSet(size: number) {
  const mk = (fs: number, lh: number, va?: string) => ({
    fontFamily: FONT, fontSize: fs, lineHeight: lh, color: '#000', fill: '#000',
    ...(va ? { verticalAlign: va } : {}),
  });
  return {
    a: mk(size, Math.round(size * 1.35)),
    s: mk(Math.round(size * 0.7), Math.round(size * 0.75), 'bottom'),
    ss: mk(Math.round(size * 0.52), Math.round(size * 0.5), 'bottom'),
    p: mk(Math.round(size * 0.7), Math.round(size * 0.75), 'top'),
  };
}

const Y_NAME = '{a|b}{s|hh}{a|(k) = (P}{s|hh}{a|(k) / P}{s|mm}{a|(k))}{p|0.5}';

function rtext(x: number, y: number, text: string, size: number, align = 'left') {
  return {
    type: 'text', x, y, silent: true,
    style: { text, rich: richSet(size), align, verticalAlign: 'middle', fontFamily: FONT, fontSize: size, fill: '#000' },
  };
}
function seg(x1: number, y1: number, x2: number, y2: number, stroke: string, lineWidth = 1.3, lineDash?: number[]) {
  return { type: 'line', silent: true, shape: { x1, y1, x2, y2 }, style: { stroke, lineWidth, ...(lineDash ? { lineDash } : {}) } };
}

function buildOption() {
  const grid: any[] = [];
  const xAxis: any[] = [];
  const yAxis: any[] = [];
  const series: any[] = [];

  PANELS.forEach((p, i) => {
    grid.push({
      left: GRID_LEFT[p.col], top: GRID_TOP[p.row], width: GRID_WIDTH[p.col], height: GRID_HEIGHT[p.row],
      show: true, borderColor: '#4a4a4a', borderWidth: 1.5, backgroundColor: 'transparent',
      containLabel: false, outerBoundsMode: 'none',
    });
    xAxis.push({
      type: 'log', logBase: 10, gridIndex: i, min: 0.009, max: 0.6,
      axisLine: { show: false }, axisTick: { show: false }, splitLine: { show: false }, minorTick: { show: false },
      axisLabel: {
        show: p.row === 2, showMinLabel: true, showMaxLabel: true,
        fontFamily: FONT, fontSize: 14, color: '#333', margin: 5,
        formatter: (v: number) => {
          const m = X_TICK_LABELS.find((t) => Math.abs(t - v) < t * 0.02);
          return m !== undefined ? String(m) : '';
        },
      },
    });
    const yBase = {
      type: 'value', gridIndex: i, min: p.yMin, max: p.yMax, minInterval: p.step, maxInterval: p.step,
      axisLine: { show: false }, splitLine: { show: false }, minorSplitLine: { show: false },
      axisTick: { show: true, inside: true, length: 9, lineStyle: { color: '#444', width: 1 } },
      minorTick: { show: true, splitNumber: 2, length: 5, lineStyle: { color: '#444', width: 1 } },
    };
    yAxis.push({
      ...yBase, position: 'left',
      axisLabel: {
        showMinLabel: true, showMaxLabel: true, fontFamily: FONT, fontSize: 14, color: '#333', margin: 4,
        formatter: (v: number) => (p.ticks.some((t) => Math.abs(t - v) < 1e-6) ? v.toFixed(1) : ''),
      },
      name: Y_NAME, nameLocation: 'middle', nameGap: 21, nameRotate: 90,
      nameTextStyle: { rich: richSet(16) },
    });
    yAxis.push({ ...yBase, position: 'right', axisLabel: { show: false } });

    for (let c = 0; c < 3; c++) {
      const vals = p.vals[c];
      const errs = p.errs[c];
      const color = COLORS[c];
      const ml: any[] = [{ yAxis: p.solid[c], lineStyle: { color, width: 1.5, type: 'solid' } }];
      if (p.dashed[c] != null) ml.push({ yAxis: p.dashed[c], lineStyle: { color: DASH_COLORS[c], width: 1, type: [5, 4] } });
      series.push({
        type: 'line', xAxisIndex: i, yAxisIndex: 2 * i, silent: true, symbol: 'none', showSymbol: false,
        clip: true, z: 3, lineStyle: { color, width: 1.2 },
        data: K.map((k, j) => [k * X_DODGE[c], vals[j]]),
        markLine: { silent: true, symbol: ['none', 'none'], label: { show: false }, animation: false, data: ml },
      });
      series.push({
        type: 'custom', xAxisIndex: i, yAxisIndex: 2 * i, silent: true, clip: true, z: 4,
        data: K.map((k, j) => [k * X_DODGE[c], vals[j], errs[j]]),
        encode: { x: 0, y: 1 },
        renderItem: (params: any, api: any) => {
          const x = api.value(0), y = api.value(1), e = api.value(2);
          const t = api.coord([x, y + e]);
          const b = api.coord([x, y - e]);
          const st = { stroke: color, lineWidth: 1.3 };
          const cap = 3;
          return {
            type: 'group',
            children: [
              { type: 'line', shape: { x1: t[0], y1: t[1], x2: b[0], y2: b[1] }, style: st },
              { type: 'line', shape: { x1: t[0] - cap, y1: t[1], x2: t[0] + cap, y2: t[1] }, style: st },
              { type: 'line', shape: { x1: b[0] - cap, y1: b[1], x2: b[0] + cap, y2: b[1] }, style: st },
            ],
          };
        },
      });
    }

    // x ticks (log axis) drawn inward on bottom and top
    series.push({
      type: 'custom', xAxisIndex: i, yAxisIndex: 2 * i, silent: true, clip: false, z: 5,
      data: [...MAJOR_K.map((k) => [k, p.yMin, 1]), ...MINOR_K.map((k) => [k, p.yMin, 0])],
      encode: { x: 0, y: 1 },
      renderItem: (params: any, api: any) => {
        const cs = params.coordSys;
        const x = api.coord([api.value(0), api.value(1)])[0];
        const len = api.value(2) ? 9 : 5;
        const st = { stroke: '#444', lineWidth: 1 };
        return {
          type: 'group',
          children: [
            { type: 'line', shape: { x1: x, y1: cs.y + cs.height, x2: x, y2: cs.y + cs.height - len }, style: st },
            { type: 'line', shape: { x1: x, y1: cs.y, x2: x, y2: cs.y + len }, style: st },
          ],
        };
      },
    });
  });

  const graphic: any[] = [
    rtext(230, 18, '{a|M}{s|halos}{a| > 2x10}{p|13}{a| h}{p|-1}{a| M}{s|⊙}', 19, 'center'),
    rtext(651, 18, '{a|M}{s|halos}{a| > 4x10}{p|13}{a| h}{p|-1}{a| M}{s|⊙}', 19, 'center'),
    rtext(230, 859, '{a|k [h Mpc}{p|-1}{a|]}', 16, 'center'),
    rtext(651, 859, '{a|k [h Mpc}{p|-1}{a|]}', 16, 'center'),
    rtext(230, 259, '{a|z = 0}', 23),
    rtext(724, 268, '{a|z = 0}', 23),
    rtext(86, 530, '{a|z = 0.5}', 23),
    rtext(507, 530, '{a|z = 0.5}', 23),
    rtext(86, 633, '{a|z = 1}', 23),
    rtext(507, 633, '{a|z = 1}', 23),
    rtext(680, 248, '{a|P(k) → P}{s|cdm}{a|(k) : ρ}{s|m}{a| → ρ}{s|cdm}', 17, 'right'),
    rtext(680, 274, '{a|P(k) →   P}{s|m}{a|(k) : ρ}{s|m}{a| → ρ}{s|cdm}', 17, 'right'),
    seg(684, 250, 708, 250, '#222', 1.5),
    seg(684, 276, 702, 276, '#aaaaaa', 1, [5, 4]),
  ];
  const LEG_Y = [229, 257, 284];
  NU_MASSES.forEach((m, c) => {
    const y = LEG_Y[c];
    graphic.push(rtext(178, y, `{a|Σ}{s|i}{a| m}{s|ν}{ss|i}{a| = ${m} eV}`, 17, 'right'));
    graphic.push(seg(183, y + 1, 207, y + 1, COLORS[c], 1.3));
    graphic.push(seg(184, y - 2, 184, y + 4, COLORS[c], 1.3));
    graphic.push(seg(195, y - 1, 195, y + 3, COLORS[c], 1.3));
    graphic.push(seg(206, y - 2, 206, y + 4, COLORS[c], 1.3));
  });

  return { animation: false, backgroundColor: '#ffffff', grid, xAxis, yAxis, series, graphic };
}

export default function App() {
  const ref = useRef<HTMLDivElement>(null);
  useEffect(() => {
    if (!ref.current) return;
    const chart = echarts.init(ref.current, null, { renderer: 'svg' });
    chart.setOption(buildOption() as any);
    return () => chart.dispose();
  }, []);
  return <div ref={ref} style={{ position: 'absolute', left: 0, top: 0, width: 843, height: 870, background: '#fff' }} />;
}
